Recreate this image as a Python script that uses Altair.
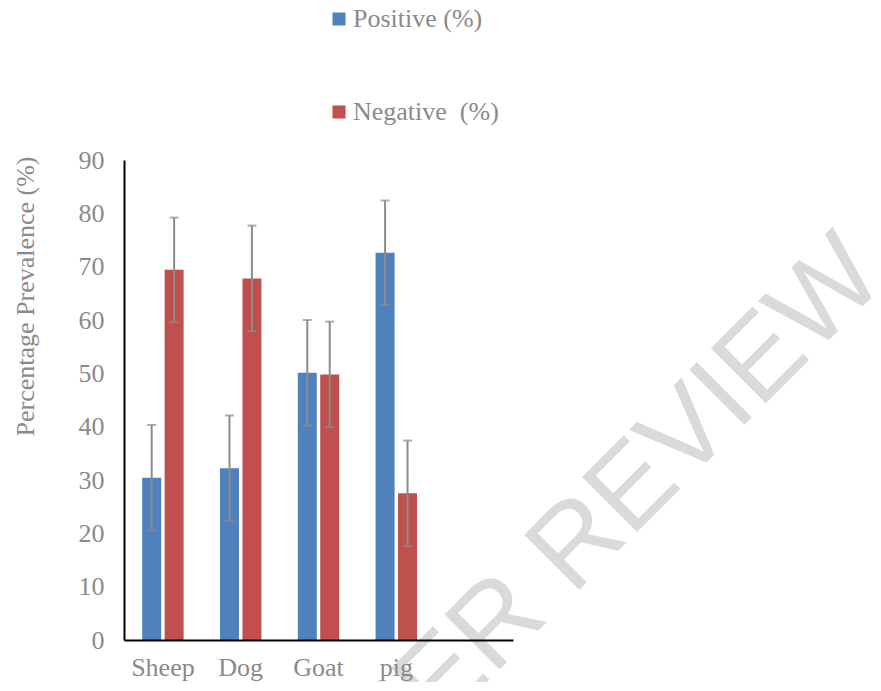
import altair as alt
import pandas as pd

categories = ["Sheep", "Dog", "Goat", "pig"]
slots = ["Sheep", "Dog", "Goat", "pig", " "]
series = ["Positive (%)", "Negative \u00a0(%)"]
positive = [30.4, 32.2, 50.1, 72.6]
negative = [69.4, 67.8, 49.8, 27.5]
pos_err = [9.9, 9.9, 9.9, 9.8]
neg_err = [9.8, 9.9, 9.9, 9.9]
colors = ["#4f81bd", "#c0504d"]

rows = []
for i, c in enumerate(categories):
    rows.append({"cat": c, "series": series[0], "val": positive[i],
                 "lo": positive[i] - pos_err[i], "hi": positive[i] + pos_err[i]})
    rows.append({"cat": c, "series": series[1], "val": negative[i],
                 "lo": negative[i] - neg_err[i], "hi": negative[i] + neg_err[i]})
df = pd.DataFrame(rows)

FONT = "Liberation Serif"
GRAY = "#8a8a8a"

x_enc = alt.X("cat:N", scale=alt.Scale(domain=slots, paddingInner=0, paddingOuter=0),
              sort=slots,
              axis=alt.Axis(title=None, labelAngle=0, labelFont=FONT, labelFontSize=26,
                            labelColor=GRAY, ticks=False, domainColor="black",
                            domainWidth=2, labelPadding=14, zindex=1))
xoff = alt.XOffset("series:N", scale=alt.Scale(domain=series, paddingInner=0, paddingOuter=0.733))
y_scale = alt.Scale(domain=[0, 90], nice=False)

bars = alt.Chart(df).mark_bar(width=19).encode(
    x=x_enc,
    xOffset=xoff,
    y=alt.Y("val:Q", scale=y_scale,
            axis=alt.Axis(title="Percentage Prevalence (%)", values=list(range(0, 91, 10)),
                          grid=False, ticks=False, domainColor="black", domainWidth=2,
                          labelFont=FONT, labelFontSize=26, labelColor=GRAY, labelPadding=20,
                          titleFont=FONT, titleFontSize=26, titleColor=GRAY,
                          titleFontWeight="normal", titleAngle=270, titleAlign="center",
                          titleBaseline="middle", titleX=-99, titleY=136, zindex=1)),
    color=alt.Color("series:N", scale=alt.Scale(domain=series, range=colors),
                    legend=alt.Legend(title=None, orient="none", legendX=202, legendY=-154,
                                      direction="vertical", symbolType="square",
                                      symbolSize=170, symbolStrokeWidth=0,
                                      labelFont=FONT, labelFontSize=26, labelColor=GRAY,
                                      rowPadding=67, labelOffset=1)),
)

rules = alt.Chart(df).mark_rule(color="#8c8c8c", strokeWidth=2).encode(
    x=alt.X("cat:N", sort=slots), xOffset=xoff,
    y=alt.Y("lo:Q", scale=y_scale), y2="hi:Q")

caps_hi = alt.Chart(df).mark_tick(color="#8c8c8c", size=9, thickness=2).encode(
    x=alt.X("cat:N", sort=slots), xOffset=xoff, y=alt.Y("hi:Q", scale=y_scale))
caps_lo = alt.Chart(df).mark_tick(color="#8c8c8c", size=9, thickness=2).encode(
    x=alt.X("cat:N", sort=slots), xOffset=xoff, y=alt.Y("lo:Q", scale=y_scale))

watermark = alt.Chart(pd.DataFrame({"t": ["FOR PEER REVIEW"]})).mark_text(
    font="Liberation Sans", fontSize=113,
    color="#dadada", angle=315,
    align="right", baseline="alphabetic").encode(
    text="t:N", x=alt.value(764), y=alt.value(121))

chart = alt.layer(watermark, bars, rules, caps_hi, caps_lo).properties(
    width=389, height=480,
    autosize=alt.AutoSizeParams(type="none"),
    padding={"left": 116, "top": 152, "right": 360, "bottom": 42},
).configure_view(stroke=None)

chart.save("out.html", embed_options={"renderer": "svg", "actions": False})
